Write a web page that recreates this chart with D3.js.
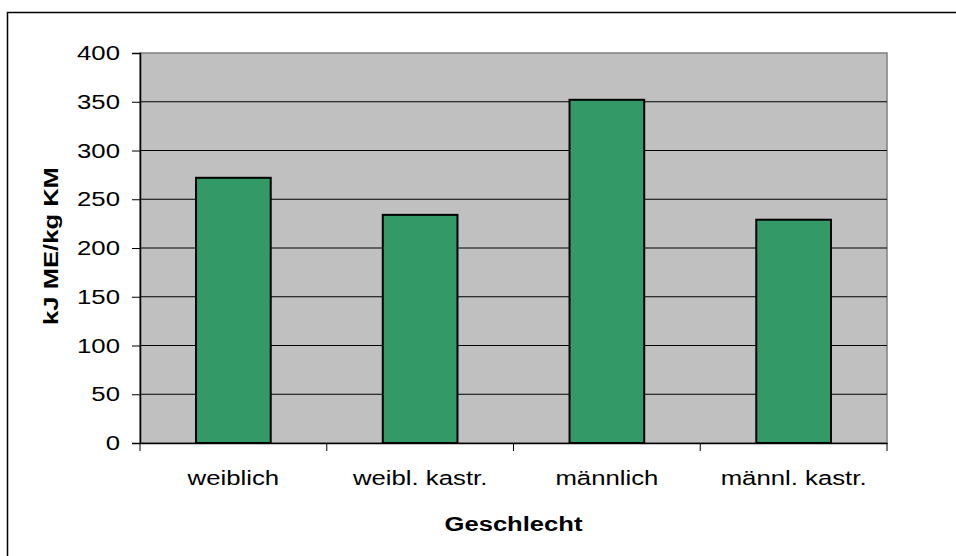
<!DOCTYPE html>
<html><head><meta charset="utf-8">
<script src="https://cdn.jsdelivr.net/npm/d3@7"></script>
<style>body{margin:0;background:#fff}svg{display:block}</style>
</head><body>
<svg id="c" width="956" height="556"></svg>
<script>
const categories = ["weiblich", "weibl. kastr.", "männlich", "männl. kastr."];
const values = [272, 234, 352, 229];
const yTicks = [0, 50, 100, 150, 200, 250, 300, 350, 400];
const yTitle = "kJ ME/kg KM";
const xTitle = "Geschlecht";

const svg = d3.select("#c");
const font = "Liberation Sans, Arial, sans-serif";
const L = 140, R = 887, T = 53, B = 443;
const SX = 1.32;   // horizontal glyph stretch seen in the reference
const SXT = 1.22;

svg.append("rect").attr("x", 7.5).attr("y", 12.5).attr("width", 960).attr("height", 560)
  .attr("fill", "#fff").attr("stroke", "#000").attr("stroke-width", 1.5);

const x = d3.scaleBand().domain(categories).range([L, R]).paddingInner(0.6).paddingOuter(0.3);
const xb = d3.scaleBand().domain(categories).range([L, R]);
const y = d3.scaleLinear().domain([0, 400]).range([B, T]);

svg.append("rect").attr("x", L).attr("y", T).attr("width", R - L).attr("height", B - T)
  .attr("fill", "#C0C0C0").attr("stroke", "#808080").attr("stroke-width", 1.5);

svg.append("g").selectAll("line").data(yTicks.filter(d => d > 0 && d < 400)).join("line")
  .attr("x1", L).attr("x2", R).attr("y1", d => y(d)).attr("y2", d => y(d))
  .attr("stroke", "#000").attr("stroke-width", 1);

svg.append("g").selectAll("rect").data(values).join("rect")
  .attr("x", (d, i) => x(categories[i])).attr("width", x.bandwidth())
  .attr("y", d => y(d)).attr("height", d => B - y(d))
  .attr("fill", "#339966").attr("stroke", "#000").attr("stroke-width", 2);

const yAxis = svg.append("g").attr("transform", `translate(${L},0)`)
  .call(d3.axisLeft(y).tickValues(yTicks).tickSize(8).tickFormat(""));
yAxis.select(".domain").attr("stroke", "#000").attr("stroke-width", 1.5);
yAxis.selectAll("line").attr("stroke", "#000");

const xAxis = svg.append("g").attr("transform", `translate(0,${B})`)
  .call(d3.axisBottom(xb).tickSize(0).tickFormat(""));
xAxis.select(".domain").attr("stroke", "#000").attr("stroke-width", 1.5);
svg.append("g").selectAll("line").data(categories.concat(["_end"])).join("line")
  .attr("x1", (d, i) => i < categories.length ? xb(d) : R)
  .attr("x2", (d, i) => i < categories.length ? xb(d) : R)
  .attr("y1", B).attr("y2", B + 8).attr("stroke", "#000");

// y tick labels
svg.append("g").selectAll("g").data(yTicks).join("g")
  .attr("transform", d => `translate(120,${y(d)})`)
  .append("text").attr("transform", `scale(${SX},1)`)
  .attr("text-anchor", "end").attr("dy", "0.36em")
  .attr("font-family", font).attr("font-size", 19.5).attr("fill", "#000")
  .text(d => d);

// category labels
svg.append("g").selectAll("g").data(categories).join("g")
  .attr("transform", d => `translate(${xb(d) + xb.bandwidth() / 2},485)`)
  .append("text").attr("transform", `scale(${SX},1)`)
  .attr("text-anchor", "middle")
  .attr("font-family", font).attr("font-size", 19.5).attr("fill", "#000")
  .text(d => d);

svg.append("g").attr("transform", `translate(${(L + R) / 2},531)`)
  .append("text").attr("transform", `scale(${SXT},1)`).attr("text-anchor", "middle")
  .attr("font-family", font).attr("font-size", 21).attr("font-weight", "bold").text(xTitle);

svg.append("g").attr("transform", `translate(58,246) rotate(-90)`)
  .append("text").attr("transform", `scale(${SXT},1)`).attr("text-anchor", "middle")
  .attr("font-family", font).attr("font-size", 21).attr("font-weight", "bold").text(yTitle);
</script>
</body></html>
